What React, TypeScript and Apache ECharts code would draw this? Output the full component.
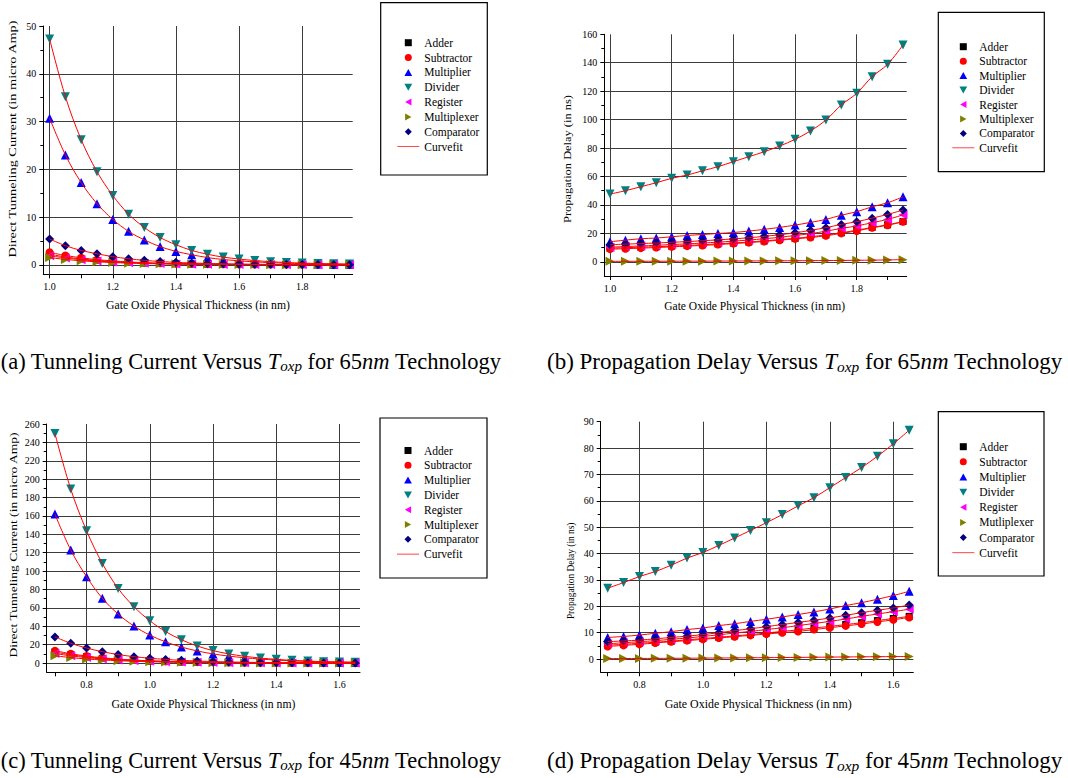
import React, { useEffect, useRef } from 'react';
import * as echarts from 'echarts';

const FONT = 'Liberation Serif';

// ---------- x values (gate oxide thickness, nm) ----------
const thick65 = [1.0, 1.05, 1.1, 1.15, 1.2, 1.25, 1.3, 1.35, 1.4, 1.45, 1.5, 1.55, 1.6, 1.65, 1.7, 1.75, 1.8, 1.85, 1.9, 1.95];
const thick45 = [0.7, 0.75, 0.8, 0.85, 0.9, 0.95, 1.0, 1.05, 1.1, 1.15, 1.2, 1.25, 1.3, 1.35, 1.4, 1.45, 1.5, 1.55, 1.6, 1.65];

// ---------- (a) tunneling current, 65nm ----------
const add65I = [2.2, 1.63, 1.21, 0.9, 0.67, 0.5, 0.37, 0.27, 0.2, 0.15, 0.11, 0.08, 0.06, 0.045, 0.033, 0.025, 0.018, 0.013, 0.01, 0.007];
const sub65I = [2.6, 1.95, 1.45, 1.07, 0.8, 0.59, 0.44, 0.32, 0.24, 0.18, 0.13, 0.1, 0.07, 0.05, 0.04, 0.03, 0.02, 0.016, 0.012, 0.009];
const mul65I = [30.7, 23.0, 17.2, 12.8, 9.5, 7.0, 5.2, 3.8, 2.8, 2.1, 1.5, 1.1, 0.82, 0.6, 0.45, 0.33, 0.24, 0.18, 0.13, 0.1];
const div65I = [47.3, 35.2, 26.2, 19.5, 14.5, 10.6, 7.8, 5.7, 4.2, 3.0, 2.2, 1.6, 1.2, 0.88, 0.64, 0.47, 0.35, 0.26, 0.19, 0.14];
const reg65I = [1.9, 1.41, 1.05, 0.78, 0.58, 0.43, 0.32, 0.24, 0.18, 0.13, 0.1, 0.07, 0.05, 0.04, 0.03, 0.02, 0.016, 0.012, 0.009, 0.007];
const mux65I = [1.5, 1.11, 0.83, 0.61, 0.46, 0.34, 0.25, 0.19, 0.14, 0.1, 0.08, 0.06, 0.04, 0.03, 0.024, 0.018, 0.013, 0.01, 0.007, 0.005];
const cmp65I = [5.4, 4.0, 3.0, 2.3, 1.7, 1.25, 0.92, 0.68, 0.5, 0.37, 0.27, 0.2, 0.15, 0.11, 0.08, 0.06, 0.045, 0.033, 0.025, 0.018];

// ---------- (b) propagation delay, 65nm ----------
const add65D = [9.6, 9.9, 10.3, 10.6, 11.0, 11.5, 12.0, 12.6, 13.2, 13.9, 14.7, 15.6, 16.5, 17.6, 18.9, 20.4, 22.2, 24.2, 26.0, 28.3];
const sub65D = [8.9, 9.2, 9.6, 10.0, 10.5, 11.0, 11.5, 12.1, 12.8, 13.5, 14.3, 15.2, 16.1, 17.1, 18.3, 20.0, 21.7, 23.9, 25.7, 28.1];
const mul65D = [14.1, 15.2, 16.2, 16.7, 17.6, 18.5, 19.2, 19.9, 20.6, 21.6, 22.8, 24.2, 25.8, 27.7, 29.8, 32.8, 35.2, 38.7, 41.5, 45.7];
const div65D = [47.6, 50.0, 52.8, 55.6, 58.7, 61.0, 64.0, 66.9, 70.4, 73.9, 77.4, 81.4, 86.1, 92.0, 99.7, 110.3, 118.5, 130.2, 138.9, 152.5];
const reg65D = [10.3, 10.7, 11.1, 11.6, 12.1, 12.6, 13.2, 13.8, 14.5, 15.3, 16.2, 17.2, 18.5, 19.8, 21.5, 23.5, 25.2, 27.5, 29.8, 33.0];
const mux65D = [0.3, 0.32, 0.35, 0.37, 0.4, 0.43, 0.46, 0.5, 0.54, 0.58, 0.63, 0.68, 0.74, 0.8, 0.87, 0.95, 1.05, 1.15, 1.3, 1.5];
const cmp65D = [12.0, 12.4, 12.8, 13.2, 13.7, 14.2, 14.8, 15.4, 16.1, 16.9, 17.9, 19.0, 20.4, 22.1, 24.0, 26.3, 28.2, 30.7, 33.3, 36.4];

// ---------- (c) tunneling current, 45nm ----------
const add45I = [12.0, 9.1, 6.9, 5.2, 3.9, 3.0, 2.25, 1.7, 1.29, 0.97, 0.74, 0.56, 0.42, 0.32, 0.24, 0.18, 0.14, 0.1, 0.08, 0.06];
const sub45I = [13.5, 10.2, 7.7, 5.8, 4.4, 3.3, 2.5, 1.9, 1.43, 1.08, 0.82, 0.62, 0.47, 0.35, 0.27, 0.2, 0.15, 0.12, 0.09, 0.07];
const mul45I = [162, 123, 94, 70.5, 53.3, 40.3, 30.5, 23.1, 17.5, 13.2, 10.0, 7.6, 5.8, 4.4, 3.3, 2.5, 1.9, 1.45, 1.1, 0.83];
const div45I = [249.8, 189.3, 144.0, 108.4, 81.2, 61.3, 46.1, 34.3, 25.4, 18.6, 13.6, 10.0, 7.4, 5.5, 4.1, 3.0, 2.2, 1.6, 1.2, 0.9];
const reg45I = [10.5, 7.9, 6.0, 4.5, 3.4, 2.6, 1.95, 1.47, 1.11, 0.84, 0.64, 0.48, 0.36, 0.27, 0.21, 0.16, 0.12, 0.09, 0.07, 0.05];
const mux45I = [8.0, 6.0, 4.5, 3.4, 2.6, 1.95, 1.47, 1.11, 0.84, 0.63, 0.48, 0.36, 0.27, 0.21, 0.16, 0.12, 0.09, 0.07, 0.05, 0.04];
const cmp45I = [28.5, 21.6, 16.4, 12.4, 9.3, 7.0, 5.3, 4.0, 3.0, 2.3, 1.7, 1.3, 0.97, 0.73, 0.55, 0.42, 0.32, 0.24, 0.18, 0.14];

// ---------- (d) propagation delay, 45nm ----------
const add45D = [5.3, 5.6, 6.0, 6.4, 6.8, 7.3, 7.8, 8.3, 8.8, 9.3, 9.9, 10.5, 11.1, 11.8, 12.4, 13.1, 13.8, 14.6, 15.4, 16.2];
const sub45D = [4.8, 5.2, 5.6, 6.1, 6.6, 7.0, 7.5, 8.0, 8.5, 9.0, 9.5, 10.0, 10.5, 11.2, 11.9, 12.6, 13.3, 14.1, 14.9, 15.8];
const mul45D = [8.2, 8.6, 9.1, 9.8, 10.4, 11.2, 11.8, 12.7, 13.4, 14.3, 15.1, 16.0, 16.9, 17.9, 19.0, 20.3, 21.4, 22.7, 24.1, 25.7];
const div45D = [26.9, 29.0, 31.3, 33.2, 35.6, 38.3, 40.4, 43.1, 45.9, 48.8, 51.7, 54.8, 58.1, 61.2, 65.0, 68.8, 72.6, 76.9, 81.6, 86.8];
const reg45D = [5.8, 6.2, 6.6, 7.0, 7.5, 8.0, 8.6, 9.2, 9.9, 10.5, 11.2, 11.9, 12.7, 13.5, 14.3, 15.2, 16.2, 17.1, 18.0, 18.9];
const mux45D = [0.2, 0.22, 0.25, 0.28, 0.31, 0.34, 0.38, 0.42, 0.46, 0.5, 0.55, 0.6, 0.65, 0.7, 0.76, 0.82, 0.87, 0.92, 0.96, 1.0];
const cmp45D = [6.6, 6.9, 7.2, 7.7, 8.2, 8.7, 9.3, 10.0, 10.8, 11.5, 12.3, 13.1, 13.9, 14.7, 15.6, 16.6, 17.6, 18.5, 19.4, 20.5];

// ---------- names & tick labels ----------
const namesABC = ['Adder', 'Subtractor', 'Multiplier', 'Divider', 'Register', 'Multiplexer', 'Comparator'];
const namesD = ['Adder', 'Subtractor', 'Multiplier', 'Divider', 'Register', 'Mutliplexer', 'Comparator'];
const fitName = 'Curvefit';
const xTicks65 = [1.0, 1.2, 1.4, 1.6, 1.8];
const xTicks45 = [0.8, 1.0, 1.2, 1.4, 1.6];
const yTicksA = [0, 10, 20, 30, 40, 50];
const yTicksB = [0, 20, 40, 60, 80, 100, 120, 140, 160];
const yTicksC = [0, 20, 40, 60, 80, 100, 120, 140, 160, 180, 200, 220, 240, 260];
const yTicksD = [0, 10, 20, 30, 40, 50, 60, 70, 80, 90];
const xTitle = 'Gate Oxide Physical Thickness (in nm)';
const yTitleI = 'Direct Tunneling Current (in micro Amp)';
const yTitleD = 'Propagation Delay (in ns)';
const captions = [
  '(a) Tunneling Current Versus {i|T}{s|oxp} for 65{i|nm} Technology',
  '(b) Propagation Delay Versus {i|T}{s|oxp} for 65{i|nm} Technology',
  '(c) Tunneling Current Versus {i|T}{s|oxp} for 45{i|nm} Technology',
  '(d) Propagation Delay Versus {i|T}{s|oxp} for 45{i|nm} Technology',
];

// ---------- styles ----------
const colors = ['#000000', '#ff0000', '#0000ff', '#008080', '#ff00ff', '#808000', '#000080'];
const symbols = ['rect', 'circle', 'triangle', 'triangle', 'triangle', 'triangle', 'diamond'];
const rotations = [0, 0, 0, 180, 90, -90, 0];
const symSizes = [7, 8, 9, 9, 9, 9, 9];
const legendIcons = [
  'path://M0,0H10V10H0Z',
  'path://M5,0A5,5,0,1,1,5,10A5,5,0,1,1,5,0Z',
  'path://M5,0L10,9L0,9Z',
  'path://M0,0L10,0L5,9Z',
  'path://M0,5L9,0L9,10Z',
  'path://M0,0L9,5L0,10Z',
  'path://M5,0L10,5L5,10L0,5Z',
];
const curveIcon = 'path://M0,0H30V1H0Z';

const panels = [
  {
    xs: thick65, ys: [add65I, sub65I, mul65I, div65I, reg65I, mux65I, cmp65I], names: namesABC,
    grid: { left: 43.3, top: 26, width: 309.4, height: 248.3 },
    xMin: 0.98, xMax: 1.96, yMin: -2, yMax: 50, yStep: 10, xTicks: xTicks65, yTicks: yTicksA,
    legend: { left: 397.3, top: 36.7, gap: 2.85 }, box: [380.7, 2.7, 106.6, 172.3],
    xName: [198, 305, 11.7], yName: [13, 139, 11, 1.3, yTitleI],
    cap: [501, 361, 'right', 22.5],
  },
  {
    xs: thick65, ys: [add65D, sub65D, mul65D, div65D, reg65D, mux65D, cmp65D], names: namesABC,
    grid: { left: 604.3, top: 34.3, width: 302.4, height: 241.7 },
    xMin: 0.9815, xMax: 1.962, yMin: -10, yMax: 160, yStep: 20, xTicks: xTicks65, yTicks: yTicksB,
    legend: { left: 952.3, top: 40.7, gap: 2.45 }, box: [938.3, 12.3, 106, 159.4],
    xName: [754.7, 306, 11.5], yName: [567.3, 159, 11, 1.13, yTitleD],
    cap: [547, 361, 'left', 23],
  },
  {
    xs: thick45, ys: [add45I, sub45I, mul45I, div45I, reg45I, mux45I, cmp45I], names: namesABC,
    grid: { left: 46.7, top: 424, width: 313.3, height: 248.3 },
    xMin: 0.674, xMax: 1.665, yMin: -10, yMax: 260, yStep: 20, xTicks: xTicks45, yTicks: yTicksC,
    legend: { left: 397, top: 444.5, gap: 2.8 }, box: [380, 418, 107, 160],
    xName: [203.5, 704.3, 11.7], yName: [13.3, 545, 11, 1.235, yTitleI],
    cap: [501, 760, 'right', 22.5],
  },
  {
    xs: thick45, ys: [add45D, sub45D, mul45D, div45D, reg45D, mux45D, cmp45D], names: namesD,
    grid: { left: 600.7, top: 421.7, width: 312.6, height: 250.6 },
    xMin: 0.678, xMax: 1.663, yMin: -5, yMax: 90, yStep: 10, xTicks: xTicks45, yTicks: yTicksD,
    legend: { left: 952.3, top: 440.7, gap: 3.15 }, box: [938.3, 411.7, 105.7, 164.3],
    xName: [758.2, 704, 11.9], yName: [570.7, 570.8, 9.4, 1.0, yTitleD],
    cap: [547, 760, 'left', 23],
  },
];

const gridLine = { color: '#3c3c3c', width: 1 };
const axisBlack = { color: '#000', width: 1 };

function buildOption() {
  const grids: any[] = [];
  const xAxes: any[] = [];
  const yAxes: any[] = [];
  const series: any[] = [];
  const legends: any[] = [];
  const graphics: any[] = [];

  panels.forEach((p, k) => {
    grids.push({ ...p.grid, containLabel: false });
    xAxes.push({
      type: 'value', gridIndex: k, min: p.xMin, max: p.xMax, minInterval: 0.2, maxInterval: 0.2, splitNumber: 5,
      axisLine: { show: true, onZero: false, lineStyle: axisBlack },
      axisTick: { show: true, inside: false, length: 4, customValues: p.xTicks, lineStyle: axisBlack },
      minorTick: { show: true, splitNumber: 2, length: 4, lineStyle: axisBlack },
      axisLabel: {
        show: true, customValues: p.xTicks, formatter: (v: number) => v.toFixed(1),
        fontFamily: FONT, fontSize: 10, color: '#000', margin: 7,
      },
      splitLine: { show: false },
    });
    yAxes.push({
      type: 'value', gridIndex: k, min: p.yMin, max: p.yMax, minInterval: p.yStep, maxInterval: p.yStep, splitNumber: 5,
      axisLine: { show: true, onZero: false, lineStyle: axisBlack },
      axisTick: { show: true, inside: false, length: 4, customValues: p.yTicks, lineStyle: axisBlack },
      minorTick: { show: true, splitNumber: 2, length: 3, lineStyle: axisBlack },
      axisLabel: {
        show: true, customValues: p.yTicks, fontFamily: FONT, fontSize: 10, color: '#000', margin: 7,
      },
      splitLine: { show: true, showMaxLine: false, lineStyle: gridLine },
    });

    p.ys.forEach((ys, j) => {
      const s: any = {
        type: 'scatter', name: p.names[j], xAxisIndex: k, yAxisIndex: k,
        data: p.xs.map((x, i) => [x, ys[i]]),
        symbol: symbols[j], symbolRotate: rotations[j], symbolSize: symSizes[j],
        itemStyle: { color: colors[j], opacity: 1 }, z: 3, silent: true,
      };
      if (j === 0) {
        // vertical grid lines at the labelled thickness values
        s.markLine = {
          silent: true, z: 1, symbol: ['none', 'none'], label: { show: false },
          lineStyle: { color: gridLine.color, width: gridLine.width, type: 'solid' },
          emphasis: { disabled: true },
          data: p.xTicks.map((v) => ({ xAxis: v })),
        };
      }
      series.push(s);
    });
    p.ys.forEach((ys) => {
      series.push({
        type: 'line', name: fitName, xAxisIndex: k, yAxisIndex: k,
        data: p.xs.map((x, i) => [x, ys[i]]),
        smooth: 0.35, showSymbol: false, symbol: 'none',
        lineStyle: { color: '#ff0000', width: 1 }, itemStyle: { color: '#ff0000' }, z: 4, silent: true,
      });
    });

    legends.push({
      orient: 'vertical', left: p.legend.left, top: p.legend.top, padding: 0,
      itemWidth: 22, itemHeight: 7, itemGap: p.legend.gap, symbolRotate: 0, selectedMode: false,
      itemStyle: { borderWidth: 0 },
      textStyle: { fontFamily: FONT, fontSize: 11.5, color: '#000' },
      data: p.names.map((n, j) => ({ name: n, icon: legendIcons[j] }))
        .concat([{ name: fitName, icon: curveIcon, itemStyle: { color: '#ff0000' } } as any]),
    });

    graphics.push({
      type: 'rect', shape: { x: p.box[0], y: p.box[1], width: p.box[2], height: p.box[3] },
      style: { fill: 'none', stroke: '#000', lineWidth: 1.2 }, silent: true, z: 1,
    });
    graphics.push({
      type: 'text', x: p.xName[0], y: p.xName[1], silent: true,
      style: {
        text: xTitle, fontFamily: FONT, fontSize: p.xName[2], fill: '#000',
        align: 'center', verticalAlign: 'middle', textAlign: 'center', textVerticalAlign: 'middle',
      },
    });
    graphics.push({
      type: 'text', x: p.yName[0], y: p.yName[1], rotation: Math.PI / 2, scaleX: p.yName[3] as number, silent: true,
      style: {
        text: p.yName[4], fontFamily: FONT, fontSize: p.yName[2], fill: '#000',
        align: 'center', verticalAlign: 'middle', textAlign: 'center', textVerticalAlign: 'middle',
      },
    });
    const capSize = p.cap[3] as number;
    graphics.push({
      type: 'text', x: p.cap[0], y: p.cap[1], silent: true,
      style: {
        text: captions[k], fontFamily: FONT, fontSize: capSize, fill: '#000',
        align: p.cap[2], verticalAlign: 'middle', textAlign: p.cap[2], textVerticalAlign: 'middle',
        rich: {
          i: { fontFamily: FONT, fontSize: capSize, fontStyle: 'italic', fill: '#000' },
          s: { fontFamily: FONT, fontSize: capSize * 0.67, fontStyle: 'italic', fill: '#000', padding: [10, 0, 0, 0] },
        },
      },
    });
  });

  return {
    animation: false,
    backgroundColor: '#ffffff',
    grid: grids,
    xAxis: xAxes,
    yAxis: yAxes,
    legend: legends,
    series,
    graphic: { elements: graphics },
  };
}

export default function App() {
  const ref = useRef<HTMLDivElement>(null);
  useEffect(() => {
    const chart = echarts.init(ref.current!, null, { renderer: 'svg' });
    chart.setOption(buildOption() as any);
    return () => chart.dispose();
  }, []);
  return (
    <div
      ref={ref}
      style={{ position: 'absolute', left: 0, top: 0, width: 1068, height: 778, background: '#fff' }}
    />
  );
}
